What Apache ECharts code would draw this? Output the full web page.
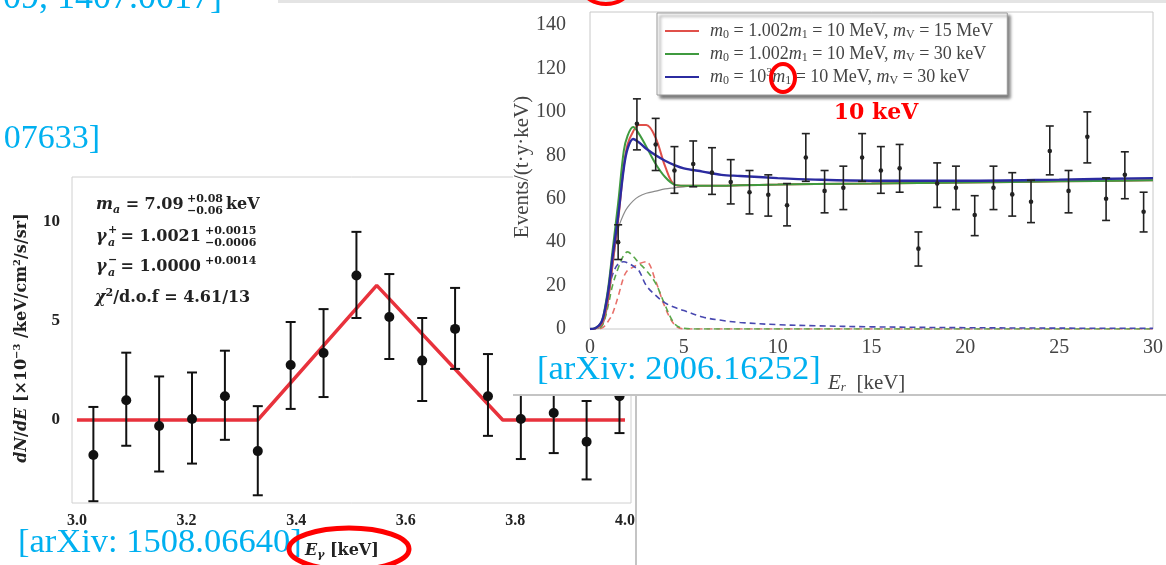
<!DOCTYPE html>
<html>
<head>
<meta charset="utf-8">
<script src="https://cdn.jsdelivr.net/npm/echarts@6/dist/echarts.min.js"></script>
<style>
  html, body { margin: 0; padding: 0; background: #fff; }
  #chart { width: 1166px; height: 565px; }
</style>
</head>
<body>
<div id="chart"></div>
<script>
// ---- left panel: 3.5 keV line fit ----
var leftX  = [3.03, 3.09, 3.15, 3.21, 3.27, 3.33, 3.39, 3.45, 3.51, 3.57, 3.63, 3.69, 3.75, 3.81, 3.87, 3.93, 3.99];
var leftY  = [-1.77, 1.0, -0.3, 0.05, 1.2, -1.57, 2.78, 3.38, 7.3, 5.2, 3.0, 4.6, 1.2, 0.05, 0.35, -1.1, 1.2];
var leftHi = [0.66, 3.4, 2.2, 2.4, 3.5, 0.7, 4.95, 5.6, 9.5, 7.37, 5.15, 6.67, 3.33, 2.2, 2.4, 0.96, 3.1];
var leftLo = [-4.1, -1.3, -2.6, -2.2, -1.0, -3.8, 0.56, 1.16, 5.15, 3.08, 0.96, 2.58, -0.8, -1.97, -1.67, -3.0, -0.66];
var leftFitX = [3.0, 3.33, 3.547, 3.777, 4.0];
var leftFitY = [0, 0, 6.8, 0, 0];
var leftXTicks = [3.0, 3.2, 3.4, 3.6, 3.8, 4.0];
var leftYTicks = [0, 5, 10];

// ---- right panel: events per keV ----
var rightX  = [1.5, 2.5, 3.5, 4.5, 5.5, 6.5, 7.5, 8.5, 9.5, 10.5, 11.5, 12.5, 13.5, 14.5, 15.5, 16.5, 17.5, 18.5, 19.5, 20.5, 21.5, 22.5, 23.5, 24.5, 25.5, 26.5, 27.5, 28.5, 29.5];
var rightY  = [40, 94.5, 85, 73, 76, 72, 67.7, 63, 61.8, 57, 79, 63.6, 65, 79, 73, 74, 37, 67, 65, 52.5, 65, 62, 58.6, 82, 63.6, 88.5, 60, 71, 54];
var rightHi = [48, 106, 97, 84, 86.6, 83.5, 78, 73, 71, 67, 90, 73, 75, 90, 84, 85, 44.7, 76.5, 75, 61.4, 75, 72, 68.5, 93.5, 73, 100, 69.6, 81.6, 63];
var rightLo = [32, 82.5, 73, 62.5, 65.5, 62, 57.6, 53, 52, 47.5, 68, 53.5, 55, 68, 62.5, 63, 29, 56, 55, 43, 55, 52, 49, 71, 53.5, 76.5, 50, 60, 44.7];

var curveX   = [0, 0.3, 0.6, 0.8, 1.0, 1.2, 1.5, 1.8, 2.0, 2.3, 2.6, 3.0, 3.5, 4.0, 4.5, 5, 6, 7, 8, 10, 12, 15, 20, 25, 30];
var redLine  = [0, 0.3, 2, 7, 16, 30, 50, 75, 85, 91, 94, 94, 88, 75, 66.5, 66, 66, 66, 66.2, 66.5, 66.8, 67, 67.5, 68, 68.5];
var greenLine= [0, 0.5, 3, 10, 21, 36, 58, 82, 89, 93, 90, 84, 76, 70, 66.5, 66, 66, 66, 66.2, 66.5, 66.8, 67, 67.5, 68, 68.5];
var blueLine = [0, 0.5, 3, 9, 19, 33, 52, 74, 83, 87.5, 86, 83, 80, 77.5, 75.5, 74, 72.5, 71, 70.5, 69.5, 68.8, 68.3, 68.3, 68.8, 69.5];
var grayLine = [0, 0, 1, 5, 14, 28, 46, 53, 56, 59, 61, 62.5, 63.5, 64.5, 65, 65.5, 66, 66, 66.2, 66.5, 66.8, 67, 67.5, 68, 68.5];
var redDash  = [0, 0, 0.3, 1.5, 4, 7, 15, 24, 27, 28.5, 30, 31, 22, 10, 2, 0, 0, 0, 0, 0, 0, 0, 0, 0, 0];
var greenDash= [0, 0.1, 1, 5, 12, 20, 28, 34, 35.5, 33.5, 30.5, 27, 21, 11, 2.5, 0.3, 0, 0, 0, 0, 0, 0, 0, 0, 0];
var blueDash = [0, 0.2, 2, 8, 17, 25, 30, 31, 30.5, 29, 27, 20, 15.5, 12, 10, 8.5, 5.5, 4, 3, 2, 1.5, 1, 0.6, 0.4, 0.3];
var rightXTicks = [0, 5, 10, 15, 20, 25, 30];
var rightYTicks = [0, 20, 40, 60, 80, 100, 120, 140];

var legendText = {
  red:   '{i|m}{s|0} = 1.002{i|m}{s|1} = 10 MeV, {i|m}{s|V} = 15 MeV',
  green: '{i|m}{s|0} = 1.002{i|m}{s|1} = 10 MeV, {i|m}{s|V} = 30 keV',
  blue:  '{i|m}{s|0} = 10{p|3}{i|m}{s|1} = 10 MeV, {i|m}{s|V} = 30 keV'
};

var LS = '"Liberation Serif", "Times New Roman", serif';
var DS = '"DejaVu Serif", serif';
var BLUE = '#00b0f0';

function pairs(xs, ys) {
  return xs.map(function (x, i) { return [x, ys[i]]; });
}

function errorBars(capW, r, lw, color) {
  return function (params, api) {
    var p = api.coord([api.value(0), api.value(1)]);
    var lo = api.coord([api.value(0), api.value(2)])[1];
    var hi = api.coord([api.value(0), api.value(3)])[1];
    var st = { stroke: color, lineWidth: lw };
    return {
      type: 'group',
      children: [
        { type: 'line', shape: { x1: p[0], y1: hi, x2: p[0], y2: lo }, style: st },
        { type: 'line', shape: { x1: p[0] - capW / 2, y1: hi, x2: p[0] + capW / 2, y2: hi }, style: st },
        { type: 'line', shape: { x1: p[0] - capW / 2, y1: lo, x2: p[0] + capW / 2, y2: lo }, style: st },
        { type: 'circle', shape: { cx: p[0], cy: p[1], r: r }, style: { fill: color } }
      ]
    };
  };
}

function errData(xs, ys, lo, hi) {
  return xs.map(function (x, i) { return [x, ys[i], lo[i], hi[i]]; });
}

function curve(name, data, color, width, z, dashed) {
  return {
    name: name, type: 'line', xAxisIndex: 1, yAxisIndex: 1,
    data: pairs(curveX, data), smooth: 0.35, showSymbol: false, symbol: 'none',
    color: color, z: z, silent: true,
    lineStyle: { color: color, width: width, type: dashed ? [6, 4] : 'solid' }
  };
}

function txt(x, y, text, o) {
  o = o || {};
  return {
    type: 'text', x: x, y: y, z: o.z || 5, rotation: o.rot || 0,
    style: {
      text: text, fill: o.color || '#222',
      fontFamily: o.family || DS, fontSize: o.size || 16,
      fontWeight: o.weight || 'bold', fontStyle: o.style || 'normal',
      align: o.align || 'left', verticalAlign: 'middle', rich: o.rich
    }
  };
}

var annRich = {
  mi: { fontFamily: DS, fontSize: 16, fontWeight: 'bold', fontStyle: 'italic', lineHeight: 21, fill: '#222' },
  sb: { fontFamily: DS, fontSize: 11, fontWeight: 'bold', fontStyle: 'italic', lineHeight: 11, verticalAlign: 'bottom', fill: '#222' },
  sp: { fontFamily: DS, fontSize: 11, fontWeight: 'bold', lineHeight: 11, verticalAlign: 'top', fill: '#222' },
  b:  { fontFamily: DS, fontSize: 16, fontWeight: 'bold', lineHeight: 21, fill: '#222' }
};

var chart = echarts.init(document.getElementById('chart'));

chart.setOption({
  backgroundColor: '#fff',
  animation: false,
  grid: [
    { left: 72, top: 177, width: 559, height: 326, show: true, borderColor: '#d0d0d0', borderWidth: 1, z: 1 },
    { left: 590, top: 12, width: 565, height: 317, show: true, borderColor: '#c8c8c8', borderWidth: 1, z: 20 }
  ],
  xAxis: [
    {
      type: 'value', gridIndex: 0, min: 2.991, max: 4.011,
      axisLine: { show: false }, axisTick: { show: false }, splitLine: { show: false },
      axisLabel: {
        customValues: leftXTicks, margin: 10,
        formatter: function (v) { return v.toFixed(1); },
        fontFamily: LS, fontWeight: 'bold', fontSize: 16, color: '#222'
      }
    },
    {
      type: 'value', gridIndex: 1, min: 0, max: 30, z: 20,
      axisLine: { show: false }, axisTick: { show: false }, splitLine: { show: false },
      axisLabel: { customValues: rightXTicks, margin: 9, fontFamily: LS, fontSize: 20, color: '#444' }
    }
  ],
  yAxis: [
    {
      type: 'value', gridIndex: 0, min: -4.19, max: 12.27,
      axisLine: { show: false }, axisTick: { show: false }, splitLine: { show: false },
      axisLabel: { customValues: leftYTicks, margin: 12, fontFamily: LS, fontWeight: 'bold', fontSize: 17, color: '#222' }
    },
    {
      type: 'value', gridIndex: 1, min: 0, max: 146, z: 20,
      axisLine: { show: false }, axisTick: { show: false }, splitLine: { show: false },
      axisLabel: { customValues: rightYTicks, margin: 24, fontFamily: LS, fontSize: 20, color: '#444' }
    }
  ],
  legend: {
    data: ['red', 'green', 'blue'],
    orient: 'vertical', left: 657, top: 13, z: 40,
    padding: [8, 14, 8, 8], itemGap: 3,
    icon: 'rect', itemWidth: 34, itemHeight: 2,
    backgroundColor: '#fff', borderColor: '#9a9a9a', borderWidth: 1,
    shadowColor: 'rgba(0,0,0,0.55)', shadowBlur: 3, shadowOffsetX: 3, shadowOffsetY: 3,
    selectedMode: false,
    formatter: function (name) { return legendText[name]; },
    textStyle: {
      fontFamily: LS, fontSize: 18, color: '#444', lineHeight: 20, padding: [0, 0, 0, 6],
      rich: {
        i: { fontFamily: LS, fontSize: 18, fontStyle: 'italic', color: '#444', lineHeight: 20 },
        s: { fontFamily: LS, fontSize: 12, color: '#444', lineHeight: 12, verticalAlign: 'bottom' },
        p: { fontFamily: LS, fontSize: 12, color: '#444', lineHeight: 12, verticalAlign: 'top' }
      }
    }
  },
  series: [
    {
      type: 'line', xAxisIndex: 0, yAxisIndex: 0, data: pairs(leftFitX, leftFitY),
      showSymbol: false, symbol: 'none', z: 2, silent: true,
      lineStyle: { color: '#e8323c', width: 3.5 }
    },
    {
      type: 'custom', xAxisIndex: 0, yAxisIndex: 0, z: 3, silent: true,
      data: errData(leftX, leftY, leftLo, leftHi),
      encode: { x: 0, y: 1 },
      renderItem: errorBars(10, 5, 2, '#111')
    },
    curve('grayBg', grayLine, '#8c8c8c', 1.2, 21, false),
    curve('redDash', redDash, '#e8706a', 1.6, 21, true),
    curve('greenDash', greenDash, '#5aa84a', 1.6, 21, true),
    curve('blueDash', blueDash, '#4848b0', 1.6, 21, true),
    curve('red', redLine, '#e0504a', 2, 22, false),
    curve('green', greenLine, '#3f9a3f', 2, 23, false),
    curve('blue', blueLine, '#2b2ba0', 2.4, 24, false),
    {
      type: 'custom', xAxisIndex: 1, yAxisIndex: 1, z: 25, silent: true,
      data: errData(rightX, rightY, rightLo, rightHi),
      encode: { x: 0, y: 1 },
      renderItem: errorBars(8, 2.3, 1.6, '#222')
    }
  ],
  graphic: {
    elements: [
      // left panel outer edge and right panel sheet on top of it
      { type: 'line', z: 1, shape: { x1: 636, y1: 395, x2: 636, y2: 565 }, style: { stroke: '#c4c4c4', lineWidth: 2 } },
      { type: 'rect', z: 10, shape: { x: 513, y: 0, width: 653, height: 395 }, style: { fill: '#fff' } },
      { type: 'line', z: 11, shape: { x1: 513, y1: 395, x2: 1166, y2: 395 }, style: { stroke: '#c4c4c4', lineWidth: 2 } },
      { type: 'rect', z: 11, shape: { x: 278, y: 0, width: 888, height: 3 }, style: { fill: '#e4e4e4' } },
      { type: 'ellipse', z: 12, shape: { cx: 606, cy: -10, rx: 22, ry: 14 }, style: { fill: 'none', stroke: '#f00', lineWidth: 4 } },

      // slide references
      txt(222, -1, '09, 1407.0017]', { family: LS, size: 36, weight: 'normal', color: BLUE, align: 'right', z: 12 }),
      txt(100, 139, '07633]', { family: LS, size: 34, weight: 'normal', color: BLUE, align: 'right', z: 12 }),
      txt(18, 543, '[arXiv: 1508.06640]', { family: LS, size: 34.5, weight: 'normal', color: BLUE, z: 12 }),
      txt(537, 370, '[arXiv: 2006.16252]', { family: LS, size: 34.5, weight: 'normal', color: BLUE, z: 30 }),

      // left panel annotations
      txt(96, 205, '{mi|m}{sb|a}{b| = 7.09}', { rich: annRich }),
      txt(187, 199, '+0.08', { size: 11 }),
      txt(187, 211, '\u22120.06', { size: 11 }),
      txt(226, 205, 'keV'),
      txt(96, 237, '{mi|\u03b3}', { rich: annRich }),
      txt(108, 230, '+', { size: 11 }),
      txt(108, 243, 'a', { size: 11, style: 'italic' }),
      txt(115, 237, ' = 1.0021'),
      txt(205, 231, '+0.0015', { size: 11 }),
      txt(205, 243, '\u22120.0006', { size: 11 }),
      txt(96, 267, '{mi|\u03b3}', { rich: annRich }),
      txt(108, 260, '\u2212', { size: 11 }),
      txt(108, 273, 'a', { size: 11, style: 'italic' }),
      txt(115, 267, ' = 1.0000'),
      txt(205, 261, '+0.0014', { size: 11 }),
      txt(95, 298, '{mi|\u03c7}{sp|2}{b|/d.o.f = 4.61/13}', { rich: annRich }),

      // left axis names
      txt(22, 338, '{it|dN}{b|/}{it|dE}{b| [\u00d710}{sp|\u22123}{b| /keV/cm}{sp|2}{b|/s/sr]}', {
        rot: Math.PI / 2, align: 'center',
        rich: {
          it: { fontFamily: DS, fontSize: 16, fontWeight: 'bold', fontStyle: 'italic', lineHeight: 20, fill: '#222' },
          b:  { fontFamily: DS, fontSize: 16, fontWeight: 'bold', lineHeight: 20, fill: '#222' },
          sp: { fontFamily: DS, fontSize: 10, fontWeight: 'bold', lineHeight: 10, verticalAlign: 'top', fill: '#222' }
        }
      }),
      txt(305, 551, '{it|E}{sb|\u03b3}{b| [keV]}', {
        rich: {
          it: { fontFamily: DS, fontSize: 16, fontWeight: 'bold', fontStyle: 'italic', lineHeight: 20, fill: '#222' },
          sb: { fontFamily: DS, fontSize: 11, fontWeight: 'bold', fontStyle: 'italic', lineHeight: 11, verticalAlign: 'bottom', fill: '#222' },
          b:  { fontFamily: DS, fontSize: 16, fontWeight: 'bold', lineHeight: 20, fill: '#222' }
        }
      }),
      { type: 'ellipse', z: 30, shape: { cx: 349, cy: 549, rx: 60, ry: 21 }, style: { fill: 'none', stroke: '#f00', lineWidth: 5 } },

      // right axis names
      txt(522, 167, 'Events/(t\u00b7y\u00b7keV)', { family: LS, size: 21, weight: 'normal', color: '#444', rot: Math.PI / 2, align: 'center', z: 20 }),
      txt(828, 383, '{it|E}{sb|r}{n|  [keV]}', {
        z: 30,
        rich: {
          it: { fontFamily: LS, fontSize: 21, fontStyle: 'italic', lineHeight: 22, fill: '#444' },
          sb: { fontFamily: LS, fontSize: 13, fontStyle: 'italic', lineHeight: 13, verticalAlign: 'bottom', fill: '#444' },
          n:  { fontFamily: LS, fontSize: 21, lineHeight: 22, fill: '#444' }
        }
      }),

      // highlight on m1 in legend
      { type: 'ellipse', z: 50, shape: { cx: 783, cy: 78, rx: 12, ry: 14 }, style: { fill: 'none', stroke: '#f00', lineWidth: 4 } },
      txt(876, 113, '10 keV', { family: DS, size: 22, color: '#f00', align: 'center', z: 50 })
    ]
  }
});
</script>
</body>
</html>
